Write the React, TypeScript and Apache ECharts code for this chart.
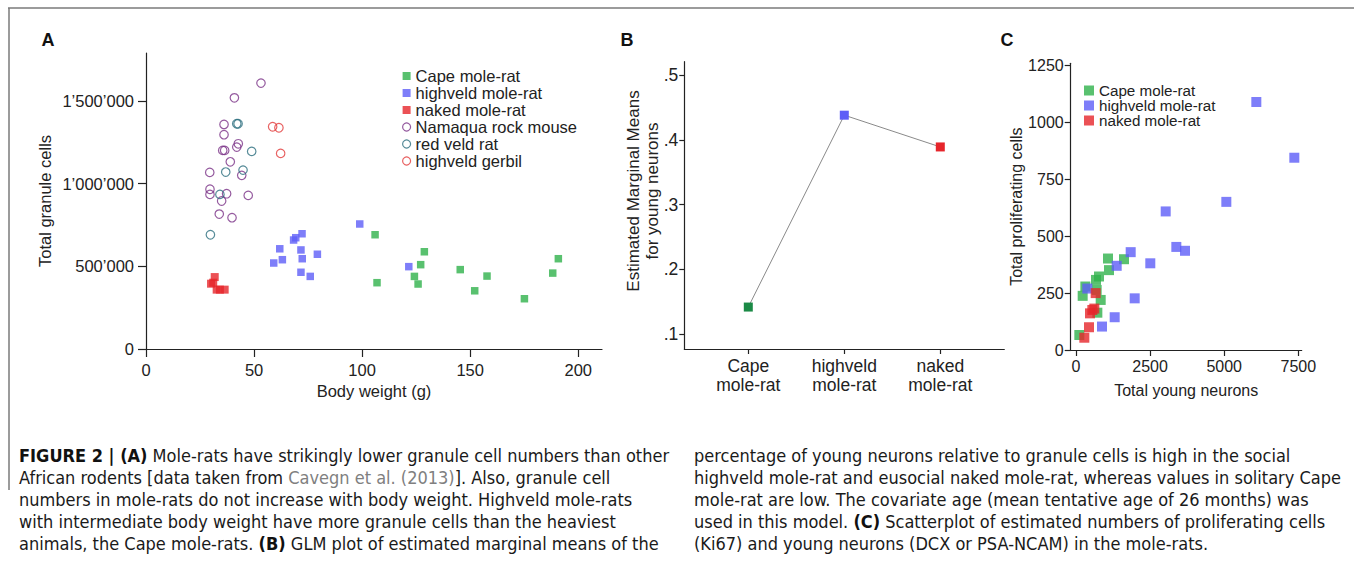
import React, { useEffect, useRef } from 'react';
import * as echarts from 'echarts';

const FONT = "'Liberation Sans', Arial, Helvetica, sans-serif";
const CAP_FONT = "'Liberation Sans Narrow', 'Arial Narrow', 'DejaVu Sans Condensed', sans-serif";

const GREEN = '#2fb24b';
const BLUE = '#5e5ef7';
const RED = '#e6252b';
const PURPLE = '#7a3287';
const TEAL = '#2c6e7e';
const GERBIL = '#e23b3b';
const B_GREEN = '#1b8a46';
const INK = '#222';

// ---------- Panel A: body weight (g) vs total granule cells ----------
const capeA = [[106.0, 691000], [106.9, 401000], [128.8, 588000], [127.1, 510000], [124.2, 439000], [125.9, 393000], [145.4, 480000], [152.1, 352000], [157.8, 441000], [175.1, 304000], [188.2, 459000], [190.8, 546000]];
const highveldA = [[59.1, 520000], [61.9, 606000], [63.1, 540000], [68.3, 659000], [69.3, 673000], [72.2, 697000], [71.7, 599000], [72.3, 546000], [71.7, 464000], [76.0, 439000], [79.3, 573000], [98.9, 756000], [121.6, 498000]];
const nakedA = [[31.8, 435000], [30.1, 395000], [31.1, 401000], [32.7, 359000], [34.2, 359000], [36.4, 359000]];
const namaquaA = [[53.2, 1608000], [40.9, 1519000], [36.1, 1358000], [36.1, 1296000], [35.5, 1201000], [36.4, 1201000], [42.7, 1241000], [42.0, 1221000], [39.0, 1132000], [29.5, 1068000], [44.3, 1050000], [29.6, 966000], [29.6, 935000], [37.3, 939000], [35.0, 895000], [47.3, 929000], [33.9, 816000], [39.8, 794000]];
const redVeldA = [[42.0, 1362000], [42.6, 1362000], [48.9, 1195000], [36.9, 1070000], [44.9, 1082000], [34.2, 935000], [29.8, 691000]];
const gerbilA = [[58.6, 1344000], [61.5, 1338000], [62.3, 1183000]];
const xTicksA = [0, 50, 100, 150, 200];
const yTicksA = [0, 500000, 1000000, 1500000];
const yLabelsA = ['0', '500\u2019000', '1\u2019000\u2019000', '1\u2019500\u2019000'];

// ---------- Panel B: estimated marginal means ----------
const groupsB = ['Cape\nmole-rat', 'highveld\nmole-rat', 'naked\nmole-rat'];
const meansB = [0.142, 0.438, 0.389];
const colorsB = [B_GREEN, BLUE, RED];
const yTicksB = [0.1, 0.2, 0.3, 0.4, 0.5];
const yLabelsB = ['.1', '.2', '.3', '.4', '.5'];

// ---------- Panel C: young neurons vs proliferating cells ----------
const capeC = [[1080, 402], [1619, 399], [1113, 351], [776, 323], [675, 308], [315, 279], [225, 238], [697, 264], [833, 220], [720, 164], [112, 66]];
const highveldC = [[6084, 1090], [7366, 845], [5072, 651], [3026, 609], [3385, 453], [3678, 436], [1845, 430], [2507, 381], [1373, 370], [1980, 227], [1305, 144], [877, 103], [382, 270]];
const nakedC = [[664, 250], [618, 182], [551, 176], [472, 161], [439, 100], [281, 54]];
const xTicksC = [0, 2500, 5000, 7500];
const yTicksC = [0, 250, 500, 750, 1000, 1250];

// ---------- Caption ----------
const captionLeft = [
  '{b|FIGURE 2 | (A)} Mole-rats have strikingly lower granule cell numbers than other',
  'African rodents [data taken from {g|Cavegn et al. (2013)}]. Also, granule cell',
  'numbers in mole-rats do not increase with body weight. Highveld mole-rats',
  'with intermediate body weight have more granule cells than the heaviest',
  'animals, the Cape mole-rats. {b|(B)} GLM plot of estimated marginal means of the',
];
const captionRight = [
  'percentage of young neurons relative to granule cells is high in the social',
  'highveld mole-rat and eusocial naked mole-rat, whereas values in solitary Cape',
  'mole-rat are low. The covariate age (mean tentative age of 26 months) was',
  'used in this model. {b|(C)} Scatterplot of estimated numbers of proliferating cells',
  '(Ki67) and young neurons (DCX or PSA-NCAM) in the mole-rats.',
];

function axisBase(fontSize: number, tickLen: number, margin: number) {
  return {
    axisLine: { onZero: false, lineStyle: { color: INK, width: 1.2 } },
    axisTick: { length: tickLen, lineStyle: { color: INK, width: 1.2 } },
    axisLabel: { color: INK, fontSize, fontFamily: FONT, margin },
    splitLine: { show: false },
    nameTextStyle: { color: INK, fontSize, fontFamily: FONT },
  };
}

function buildOption() {
  const a = axisBase(16.5, 8, 12);
  const b = axisBase(17.5, 5, 7);
  const c = axisBase(16, 6, 7);

  const openCircle = (color: string) => ({ color: 'transparent', borderColor: color, borderWidth: 1.2 });

  const capLines: any[] = [];
  const rich = {
    b: { fontWeight: 'bold', fontFamily: CAP_FONT, fontSize: 18, fill: '#111' },
    g: { fontFamily: CAP_FONT, fontSize: 18, fill: '#808080' },
  };
  const lineYs = [455, 477, 499, 521, 543];
  captionLeft.forEach((t, i) => capLines.push({
    type: 'text', x: 19, y: lineYs[i],
    style: { text: t, rich, fontFamily: CAP_FONT, fontSize: 18, fill: '#1a1a1a', verticalAlign: 'middle' },
  }));
  captionRight.forEach((t, i) => capLines.push({
    type: 'text', x: 694, y: lineYs[i],
    style: { text: t, rich, fontFamily: CAP_FONT, fontSize: 18, fill: '#1a1a1a', verticalAlign: 'middle' },
  }));

  const letter = (t: string, x: number) => ({
    type: 'text', x, y: 40,
    style: { text: t, fontFamily: FONT, fontWeight: 'bold', fontSize: 18, fill: '#111', verticalAlign: 'middle' },
  });

  return {
    animation: false,
    backgroundColor: '#fff',
    grid: [
      { left: 146, top: 53, width: 456, height: 296 },
      { left: 684.3, top: 61.7, width: 320, height: 287.3 },
      { left: 1070.7, top: 63.3, width: 231, height: 286.7 },
    ],
    xAxis: [
      {
        gridIndex: 0, type: 'value', min: 0, max: 211,
        name: 'Body weight (g)', nameLocation: 'middle', nameGap: 30,
        ...a,
        axisTick: { ...a.axisTick, customValues: xTicksA },
        axisLabel: { ...a.axisLabel, customValues: xTicksA, formatter: (v: number) => String(v) },
      },
      {
        gridIndex: 1, type: 'value', min: 1 / 3, max: 11 / 3,
        ...b,
        axisTick: { ...b.axisTick, customValues: [1, 2, 3] },
        axisLabel: {
          ...b.axisLabel, customValues: [1, 2, 3], lineHeight: 19,
          formatter: (v: number) => groupsB[Math.round(v) - 1] ?? '',
        },
      },
      {
        gridIndex: 2, type: 'value', min: -179, max: 7615,
        name: 'Total young neurons', nameLocation: 'middle', nameGap: 32,
        ...c,
        axisLabel: { ...c.axisLabel, customValues: xTicksC, margin: 8, formatter: (v: number) => String(v) },
        axisTick: { ...c.axisTick, customValues: xTicksC },
      },
    ],
    yAxis: [
      {
        gridIndex: 0, type: 'value', min: 0, max: 1790000,
        name: 'Total granule cells', nameLocation: 'middle', nameGap: 93,
        ...a,
        axisTick: { ...a.axisTick, customValues: yTicksA },
        axisLabel: {
          ...a.axisLabel, customValues: yTicksA,
          formatter: (v: number) => yLabelsA[yTicksA.indexOf(v)] ?? '',
        },
      },
      {
        gridIndex: 1, type: 'value', min: 0.0773, max: 0.5205,
        ...b,
        axisLabel: {
          ...b.axisLabel, customValues: yTicksB, margin: 6,
          formatter: (v: number) => yLabelsB[yTicksB.findIndex((t) => Math.abs(t - v) < 1e-6)] ?? '',
        },
        axisTick: { ...b.axisTick, customValues: yTicksB },
      },
      {
        gridIndex: 2, type: 'value', min: 0, max: 1260,
        name: 'Total proliferating cells', nameLocation: 'middle', nameGap: 45,
        ...c,
        axisLabel: { ...c.axisLabel, customValues: yTicksC, margin: 7, formatter: (v: number) => String(v) },
        axisTick: { ...c.axisTick, customValues: yTicksC },
      },
    ],
    legend: [
      {
        orient: 'vertical', left: 402, top: 67.5, padding: 0, itemWidth: 8, itemHeight: 8, itemGap: 0,
        selectedMode: false,
        textStyle: { color: INK, fontSize: 16.5, fontFamily: FONT, lineHeight: 15 },
        data: [
          { name: 'Cape mole-rat', icon: 'rect', itemStyle: { color: GREEN } },
          { name: 'highveld mole-rat', icon: 'rect', itemStyle: { color: BLUE } },
          { name: 'naked mole-rat', icon: 'rect', itemStyle: { color: RED } },
          { name: 'Namaqua rock mouse', icon: 'circle', itemStyle: openCircle(PURPLE) },
          { name: 'red veld rat', icon: 'circle', itemStyle: openCircle(TEAL) },
          { name: 'highveld gerbil', icon: 'circle', itemStyle: openCircle(GERBIL) },
        ],
      },
      {
        orient: 'vertical', left: 1084, top: 83, padding: 0, itemWidth: 10, itemHeight: 10, itemGap: 0,
        selectedMode: false,
        textStyle: { color: INK, fontSize: 15.2, fontFamily: FONT, lineHeight: 15 },
        data: [
          { name: 'Cape mole-rat', icon: 'rect', itemStyle: { color: GREEN } },
          { name: 'highveld mole-rat', icon: 'rect', itemStyle: { color: BLUE } },
          { name: 'naked mole-rat', icon: 'rect', itemStyle: { color: RED } },
        ],
      },
    ],
    series: [
      { name: 'Namaqua rock mouse', type: 'scatter', xAxisIndex: 0, yAxisIndex: 0, symbol: 'circle', symbolSize: 8.5, data: namaquaA, itemStyle: openCircle(PURPLE) },
      { name: 'red veld rat', type: 'scatter', xAxisIndex: 0, yAxisIndex: 0, symbol: 'circle', symbolSize: 8.5, data: redVeldA, itemStyle: openCircle(TEAL) },
      { name: 'highveld gerbil', type: 'scatter', xAxisIndex: 0, yAxisIndex: 0, symbol: 'circle', symbolSize: 8.5, data: gerbilA, itemStyle: openCircle(GERBIL) },
      { name: 'Cape mole-rat', type: 'scatter', xAxisIndex: 0, yAxisIndex: 0, symbol: 'rect', symbolSize: 7.5, data: capeA, itemStyle: { color: GREEN } },
      { name: 'highveld mole-rat', type: 'scatter', xAxisIndex: 0, yAxisIndex: 0, symbol: 'rect', symbolSize: 7.5, data: highveldA, itemStyle: { color: BLUE } },
      { name: 'naked mole-rat', type: 'scatter', xAxisIndex: 0, yAxisIndex: 0, symbol: 'rect', symbolSize: 8, data: nakedA, itemStyle: { color: RED } },
      {
        name: 'Estimated marginal means', type: 'line', xAxisIndex: 1, yAxisIndex: 1,
        symbol: 'rect', symbolSize: 9, showSymbol: true,
        lineStyle: { color: '#8a8a8a', width: 1 },
        data: meansB.map((m, i) => ({ value: [i + 1, m], itemStyle: { color: colorsB[i] } })),
      },
      { name: 'Cape mole-rat', type: 'scatter', xAxisIndex: 2, yAxisIndex: 2, symbol: 'rect', symbolSize: 10, data: capeC, itemStyle: { color: GREEN } },
      { name: 'highveld mole-rat', type: 'scatter', xAxisIndex: 2, yAxisIndex: 2, symbol: 'rect', symbolSize: 10, data: highveldC, itemStyle: { color: BLUE } },
      { name: 'naked mole-rat', type: 'scatter', xAxisIndex: 2, yAxisIndex: 2, symbol: 'rect', symbolSize: 10, data: nakedC, itemStyle: { color: RED } },
    ],
    graphic: [
      { type: 'line', shape: { x1: 8, y1: 8, x2: 1354, y2: 8 }, style: { stroke: '#7a7a7a', lineWidth: 1.5 } },
      { type: 'line', shape: { x1: 9, y1: 8, x2: 9, y2: 490 }, style: { stroke: '#7a7a7a', lineWidth: 1.5 } },
      letter('A', 41.5),
      letter('B', 620.5),
      letter('C', 1000.5),
      {
        type: 'text', x: 633, y: 191, rotation: Math.PI / 2,
        style: { text: 'Estimated Marginal Means', fontFamily: FONT, fontSize: 17, fill: INK, align: 'center', verticalAlign: 'middle' },
      },
      {
        type: 'text', x: 652, y: 191, rotation: Math.PI / 2,
        style: { text: 'for young neurons', fontFamily: FONT, fontSize: 17, fill: INK, align: 'center', verticalAlign: 'middle' },
      },
      ...capLines,
    ],
  };
}

export default function App() {
  const ref = useRef<HTMLDivElement>(null);
  useEffect(() => {
    if (!ref.current) return;
    const chart = echarts.init(ref.current, null, { renderer: 'svg' });
    chart.setOption(buildOption() as any);
    return () => chart.dispose();
  }, []);
  return (
    <div
      ref={ref}
      style={{ position: 'absolute', left: 0, top: 0, width: 1354, height: 575, background: '#fff' }}
    />
  );
}
